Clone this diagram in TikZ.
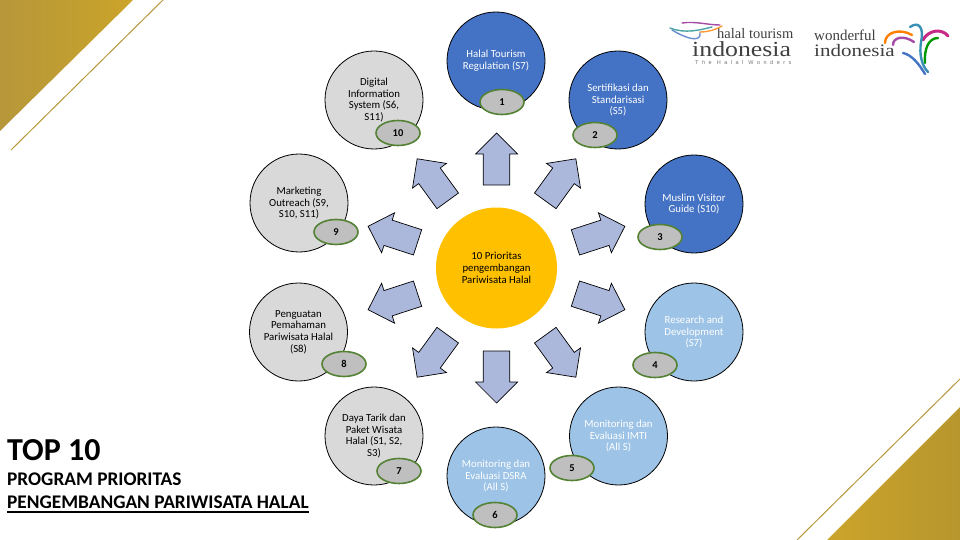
\documentclass[tikz,border=0pt]{standalone}
\usepackage{fontspec}
\setmainfont{Carlito}
\newfontfamily\logofont{Liberation Serif}
\newfontfamily\logowide[FakeStretch=1.2]{Liberation Serif}
\newfontfamily\logospaced[LetterSpace=64]{Liberation Sans}
\definecolor{cblue}{HTML}{4472C4}
\definecolor{clight}{HTML}{9DC3E6}
\definecolor{cgrey}{HTML}{D9D9D9}
\definecolor{coval}{HTML}{BFBFBF}
\definecolor{cgreen}{HTML}{548235}
\definecolor{cgold}{HTML}{FFC000}
\definecolor{carrow}{HTML}{ABB8DC}
\definecolor{goldA}{HTML}{CBA42A}
\definecolor{goldB}{HTML}{B6973A}
\definecolor{goldC}{HTML}{B8962E}
\usetikzlibrary{shapes.geometric}
\tikzset{
  x=1pt,y=-1pt,
  ball/.style={circle,draw=black,line width=0.8pt,minimum size=98pt,inner sep=0pt,align=center,
    font=\fontsize{10.8}{11.7}\selectfont},
  blueball/.style={ball,fill=cblue,text=white},
  lightball/.style={ball,fill=clight,text=white},
  greyball/.style={ball,fill=cgrey,text=black},
  badge/.style={ellipse,draw=cgreen,line width=1.6pt,fill=coval,minimum width=44pt,minimum height=25pt,
    inner sep=0pt,font=\fontsize{10.5}{12}\selectfont\bfseries},
  blockarrow/.style={draw=black,line width=0.7pt,fill=carrow},
  title/.style={anchor=base west,inner sep=0pt},
  swirl/.style={line width=2.4pt,line cap=round},
  logotext/.style={inner sep=0pt,anchor=base west,text=black!75},
}
\begin{document}
\begin{tikzpicture}
\useasboundingbox (0,0) rectangle (960,540);
% corner decorations
\shade[left color=goldB,right color=goldA] (0,0) -- (133,0) -- (0,131) -- cycle;
\draw[goldB,line width=1pt] (163,0) -- (11,150);
\shade[left color=goldA,right color=goldC] (960,407) -- (960,540) -- (827,540) -- cycle;
\draw[goldB,line width=1pt] (960,379) -- (797,540);
% block arrows
\foreach \a in {90,54,18,-18,-54,-90,-126,-162,162,126}
  \draw[blockarrow,shift={(496.5,268)},rotate=\a]
    (83,-13.3) -- (114,-13.3) -- (114,-21) -- (135,0) -- (114,21) -- (114,13.3) -- (83,13.3) -- cycle;
% circles
\node[circle,fill=cgold,minimum size=121pt,inner sep=0pt,align=center,
  font=\fontsize{10.8}{11.7}\selectfont] (hub) at (496.5,268) {10 Prioritas\\pengembangan\\Pariwisata Halal};
\node[blueball] (n1) at (496,61) {Halal Tourism\\Regulation (S7)};
\node[blueball] (n2) at (618,100) {Sertifikasi dan\\Standarisasi\\(S5)};
\node[blueball] (n3) at (694,204) {Muslim Visitor\\Guide (S10)};
\node[lightball] (n4) at (694,332) {Research and\\Development\\(S7)};
\node[lightball] (n5) at (618.5,436) {Monitoring dan\\Evaluasi IMTI\\(All S)};
\node[lightball] (n6) at (496,476) {Monitoring dan\\Evaluasi DSRA\\(All S)};
\node[greyball] (n7) at (374,436) {Daya Tarik dan\\Paket Wisata\\Halal (S1, S2,\\S3)};
\node[greyball] (n8) at (298.5,332) {Penguatan\\Pemahaman\\Pariwisata Halal\\(S8)};
\node[greyball] (n9) at (299,203) {Marketing\\Outreach (S9,\\S10, S11)};
\node[greyball] (n10) at (374,100) {Digital\\Information\\System (S6,\\S11)};
% badges
\node[badge] (b1) at (502,102) {1};
\node[badge] (b2) at (595,135) {2};
\node[badge] (b3) at (660,237) {3};
\node[badge] (b4) at (655,365) {4};
\node[badge] (b5) at (572,468) {5};
\node[badge] (b6) at (495,515) {6};
\node[badge] (b7) at (399,471) {7};
\node[badge] (b8) at (344,364) {8};
\node[badge] (b9) at (336,232) {9};
\node[badge] (b10) at (398,133) {10};
% title block
\node[title,font=\fontsize{32}{34}\selectfont\bfseries] (t1) at (7,460) {TOP 10};
\node[title,font=\fontsize{19.3}{21}\selectfont\bfseries] (t2) at (7,485) {PROGRAM PRIORITAS};
\node[title,font=\fontsize{19.3}{21}\selectfont\bfseries] (t3) at (7,508) {PENGEMBANGAN PARIWISATA HALAL};
\draw[line width=1.6pt] (t3.base west) ++(0,4) -- ++(302,0);
% logos
\node[logotext,font=\logofont\fontsize{14.5}{15}\selectfont] (l1) at (717,39) {halal tourism};
\node[logotext,font=\logowide\fontsize{21.5}{22}\selectfont] (l2) at (692,57) {indonesia};
\node[logotext,text=black!55,font=\logospaced\fontsize{5.5}{6}\selectfont] (l3) at (695,65) {The Halal Wonders};
\node[logotext,font=\logofont\fontsize{15}{15}\selectfont] (l4) at (814,41) {wonderful};
\node[logotext,font=\logowide\fontsize{17.5}{19}\selectfont] (l5) at (814,57) {indonesia};
% halal swoosh
\draw[swirl,line width=1.4pt,color=teal!70] (670,28) .. controls (685,34) and (700,30) .. (712,27);
\draw[swirl,line width=1.4pt,color=cblue!80] (672,30) .. controls (685,38) and (702,44) .. (700,32);
\draw[swirl,line width=1.4pt,color=violet!70] (682,23) .. controls (695,21) and (708,25) .. (720,25);
\draw[swirl,line width=1.4pt,color=orange!80] (700,32) .. controls (708,32) and (715,30) .. (722,26);
% phoenix
\draw[swirl,color=orange] (885,43) .. controls (885,32) and (900,28) .. (912,35);
\draw[swirl,color=violet!70] (893,45) .. controls (893,37) and (904,35) .. (914,42);
\draw[swirl,color=magenta!80!black,line width=3pt] (923,40) .. controls (928,30) and (942,28) .. (948,36);
\draw[swirl,color=green!60!black] (925,63) .. controls (924,50) and (928,38) .. (938,38);
\draw[swirl,color=cyan!70!black] (910,27) .. controls (920,20) and (924,30) .. (921,42) .. controls (919,55) and (922,66) .. (928,72);
\draw[swirl,color=cblue] (903,53) .. controls (912,55) and (919,64) .. (925,74);
\end{tikzpicture}
\end{document}
